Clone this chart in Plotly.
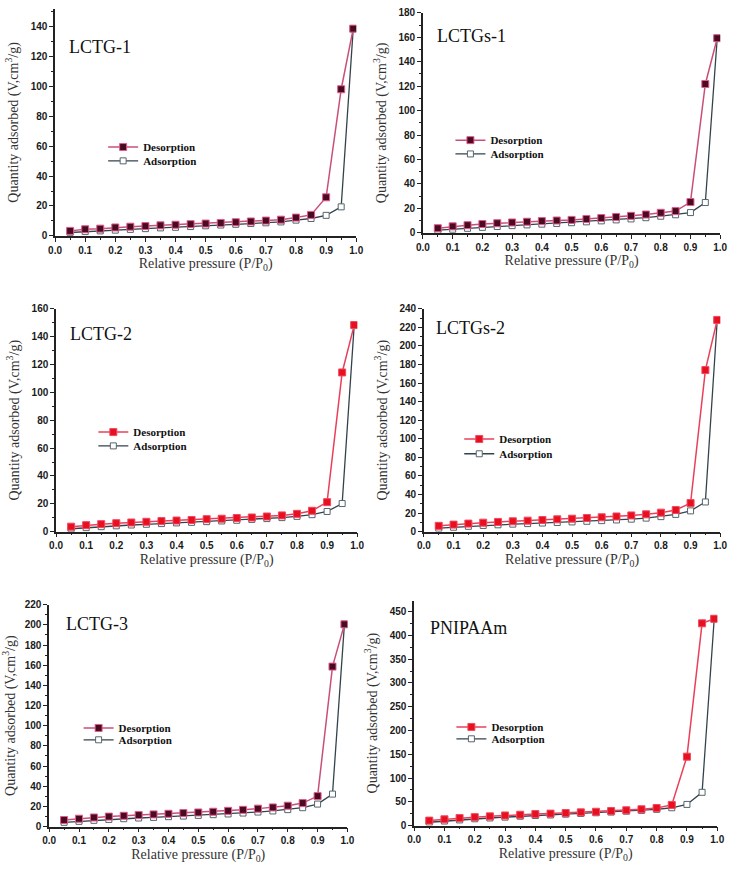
import plotly.graph_objects as go

W, H = 737, 874

pressure = [0.05, 0.10, 0.15, 0.20, 0.25, 0.30, 0.35, 0.40, 0.45, 0.50,
            0.55, 0.60, 0.65, 0.70, 0.75, 0.80, 0.85, 0.90, 0.95, 0.99]

sample_names = ["LCTG-1", "LCTGs-1", "LCTG-2", "LCTGs-2", "LCTG-3", "PNIPAAm"]

des_lctg1 = [3.3, 4.4, 4.8, 5.6, 6.1, 6.5, 7.0, 7.4, 7.8, 8.2, 8.6, 9.1, 9.6, 10.2, 10.8, 12.2, 14.0, 25.8, 98.2, 138.8]
ads_lctg1 = [2.2, 2.8, 3.3, 3.8, 4.3, 4.8, 5.3, 5.7, 6.2, 6.7, 7.2, 7.7, 8.2, 8.7, 9.3, 10.5, 11.6, 13.7, 19.4, 138.8]

des_lctgs1 = [3.8, 5.3, 6.3, 7.2, 7.9, 8.5, 9.1, 9.6, 10.1, 10.6, 11.3, 12.1, 13.0, 13.9, 15.0, 16.4, 17.8, 25.2, 121.8, 159.3]
ads_lctgs1 = [2.2, 2.9, 3.7, 4.5, 5.2, 5.9, 6.5, 7.1, 7.7, 8.3, 9.0, 9.8, 10.6, 11.4, 12.4, 13.6, 14.8, 16.6, 24.8, 159.3]

des_lctg2 = [3.6, 4.7, 5.4, 6.1, 6.6, 7.1, 7.6, 8.0, 8.4, 9.0, 9.3, 9.8, 10.2, 10.9, 11.7, 12.8, 15.0, 21.2, 114.3, 148.3]
ads_lctg2 = [2.1, 2.9, 3.6, 4.2, 4.8, 5.3, 5.8, 6.3, 6.7, 7.2, 7.7, 8.2, 8.8, 9.4, 10.1, 11.0, 12.2, 14.5, 20.2, 148.3]

des_lctgs2 = [6.3, 7.6, 8.7, 9.7, 10.5, 11.2, 11.9, 12.6, 13.3, 14.0, 14.7, 15.5, 16.4, 17.5, 18.7, 20.5, 23.3, 30.8, 174.0, 228.0]
ads_lctgs2 = [3.8, 4.8, 5.8, 6.7, 7.4, 8.1, 8.7, 9.3, 9.9, 10.5, 11.2, 11.9, 12.6, 13.5, 14.6, 16.2, 18.6, 22.4, 32.0, 228.0]

des_lctg3 = [6.5, 7.8, 9.0, 9.9, 10.7, 11.4, 12.1, 12.7, 13.4, 14.0, 14.7, 15.6, 16.6, 17.8, 19.0, 20.7, 23.3, 30.2, 158.6, 200.5]
ads_lctg3 = [4.2, 5.2, 6.2, 7.1, 7.8, 8.5, 9.1, 9.8, 10.4, 11.1, 11.8, 12.5, 13.4, 14.4, 15.5, 16.8, 18.7, 22.3, 32.2, 200.5]

des_pnipaam = [10.5, 13.2, 15.8, 17.8, 19.4, 21.3, 22.8, 24.2, 25.2, 26.5, 27.8, 29.1, 30.6, 32.2, 34.3, 37.0, 43.5, 145.0, 425.5, 435.0]
ads_pnipaam = [7.0, 9.6, 11.9, 14.3, 16.0, 17.8, 19.7, 21.2, 22.3, 24.0, 25.5, 27.0, 28.4, 30.3, 32.0, 34.2, 37.5, 44.5, 70.0, 435.0]

desorption = [des_lctg1, des_lctgs1, des_lctg2, des_lctgs2, des_lctg3, des_pnipaam]
adsorption = [ads_lctg1, ads_lctgs1, ads_lctg2, ads_lctgs2, ads_lctg3, ads_pnipaam]

y_max = [152, 180, 160, 240, 220, 473]
y_dtick = [20, 20, 20, 20, 20, 50]

# plot-area pixel boxes: (left, right, top, bottom)
boxes = [(49, 356, 3, 233), (424, 727, 7, 230),
         (50, 357, 307, 533), (425, 727, 307, 533),
         (43, 347, 607, 832), (415, 724, 603, 831)]
# panel label positions (left x, center y)
label_pos = [(61, 42), (436, 30), (62, 333), (435, 326), (58, 627), (429, 631)]
# legend text start (x), desorption row y, adsorption row y
legend_pos = [(142, 143, 157), (496, 136, 150), (132, 432, 446),
              (505, 439, 454), (117, 732, 744), (497, 731, 743)]

dark_style = dict(line="#c85078", fill="#4a0c1c", edge="#e05a96")
red_style = dict(line="#e8405a", fill="#e8101e", edge="#f04a64")
styles = [dark_style, dark_style, red_style, red_style, dark_style, red_style]

ads_line = "#33434c"

fig = go.Figure()
layout = dict(width=W, height=H, margin=dict(l=0, r=0, t=0, b=0),
              paper_bgcolor="white", plot_bgcolor="white", showlegend=True)

tickfont = dict(family="Liberation Sans", size=10, color="#1a1a1a", weight="bold")
titlefont = dict(family="Liberation Serif", size=14, color="#333")
legfont = dict(family="Liberation Serif", size=11, color="#111", weight="bold")

for i in range(6):
    n = i + 1
    xa = "x" if n == 1 else f"x{n}"
    ya = "y" if n == 1 else f"y{n}"
    leg_d = "legend" if n == 1 else f"legend{2 * n - 1}"
    leg_a = f"legend{2 * n}"
    st = styles[i]
    fig.add_trace(go.Scatter(
        x=pressure, y=adsorption[i], xaxis=xa, yaxis=ya, name="Adsorption",
        mode="lines+markers", legend=leg_a,
        line=dict(color=ads_line, width=1.3),
        marker=dict(symbol="square", size=6, color="white",
                    line=dict(color="#56666c", width=1))))
    fig.add_trace(go.Scatter(
        x=pressure, y=desorption[i], xaxis=xa, yaxis=ya, name="Desorption",
        mode="lines+markers", legend=leg_d,
        line=dict(color=st["line"], width=1.5),
        marker=dict(symbol="square", size=7, color=st["fill"],
                    line=dict(color=st["edge"], width=1))))

    l, r, t, b = boxes[i]
    xkey = "xaxis" if n == 1 else f"xaxis{n}"
    ykey = "yaxis" if n == 1 else f"yaxis{n}"
    layout[xkey] = dict(
        domain=[l / W, r / W], anchor=ya, range=[0, 1.0], dtick=0.1, tick0=0,
        tickformat=".1f", showgrid=False, zeroline=False, showline=True,
        linecolor="#222", linewidth=1.5, ticks="outside", ticklen=4,
        tickwidth=1.2, tickcolor="#222", tickfont=tickfont,
        ticklabeloverflow="allow",
        minor=dict(ticks="outside", ticklen=2, dtick=0.05, tickcolor="#222", tickwidth=1),
        title=dict(text="Relative pressure (P/P<sub>0</sub>)", font=titlefont, standoff=4))
    layout[ykey] = dict(
        domain=[1 - b / H, 1 - t / H], anchor=xa, range=[0, y_max[i]],
        dtick=y_dtick[i], tick0=0, showgrid=False, zeroline=False, showline=True,
        linecolor="#222", linewidth=1.5, ticks="outside", ticklen=4,
        tickwidth=1.2, tickcolor="#222", tickfont=tickfont,
        minor=dict(ticks="outside", ticklen=2, dtick=y_dtick[i] / 2, tickcolor="#222", tickwidth=1),
        title=dict(text="Quantity adsorbed (V,cm<sup>3</sup>/g)", font=titlefont, standoff=9))

    lx, ly_d, ly_a = legend_pos[i]
    for key, ly in ((leg_d, ly_d), (leg_a, ly_a)):
        layout[key] = dict(
            x=(lx - 44) / W, y=1 - ly / H, xanchor="left", yanchor="middle",
            bgcolor="rgba(0,0,0,0)", borderwidth=0, font=legfont)

fig.update_layout(**layout)

for i in range(6):
    px, py = label_pos[i]
    fig.add_annotation(text=sample_names[i], xref="paper", yref="paper",
                       x=px / W, y=1 - py / H, xanchor="left", yanchor="middle",
                       showarrow=False,
                       font=dict(family="Liberation Serif", size=18, color="#111"))

fig.write_html("out.html", config={"displayModeBar": False},
               post_script="document.body.style.margin='0';")
